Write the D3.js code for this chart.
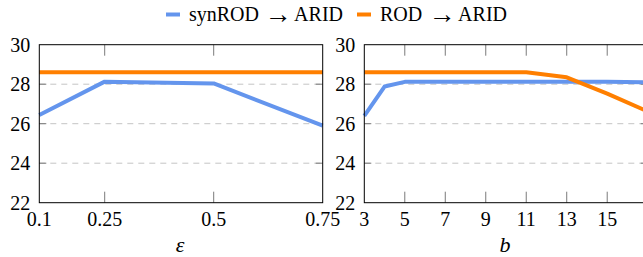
<!DOCTYPE html>
<html>
<head>
<meta charset="utf-8">
<script src="https://cdn.jsdelivr.net/npm/d3@7"></script>
</head>
<body style="margin:0;background:#fff">
<svg width="643" height="257"></svg>
<script>
var seriesNames = [["synROD", "ARID"], ["ROD", "ARID"]];
var colors = ["#6495ed", "#ff7f00"];

var epsX = [0.1, 0.25, 0.5, 0.75];
var epsSyn = [26.44, 28.13, 28.04, 25.9];
var epsRod = [28.6, 28.6, 28.6, 28.6];
var epsTicks = [0.1, 0.25, 0.5, 0.75];

var bX = [3, 4, 5, 7, 9, 11, 13, 15, 17];
var bSyn = [26.4, 27.88, 28.12, 28.12, 28.12, 28.12, 28.12, 28.12, 28.1];
var bRod = [28.6, 28.6, 28.6, 28.6, 28.6, 28.6, 28.35, 27.52, 26.62];
var bTicks = [3, 5, 7, 9, 11, 13, 15];

var yTicks = [22, 24, 26, 28, 30];
var gridTicks = [24, 26, 28];

var FONT = "Liberation Serif";

var svg = d3.select("svg");

var plotTop = 44.7, plotBottom = 202.7;

var y = d3.scaleLinear().domain([22, 30]).range([plotBottom, plotTop]);

function panel(x0, x1, domain, ticks, xs, syn, rod, title) {
	var x = d3.scaleLinear().domain(domain).range([x0, x1]);
	var g = svg.append("g");

	// dashed horizontal grid
	g.selectAll(".grid")
		.data(gridTicks)
		.enter().append("line")
		.attr("x1", x0).attr("x2", x1)
		.attr("y1", function(d) { return y(d); })
		.attr("y2", function(d) { return y(d); })
		.attr("stroke", "#c4c4c4")
		.attr("stroke-width", 1)
		.attr("stroke-dasharray", "6,5");

	// tick marks, both sides
	var inner = ticks.filter(function(d) { return d != domain[0] && d != domain[1]; });
	[[plotBottom, -11], [plotTop, 11]].forEach(function(p) {
		g.selectAll(null)
			.data(inner)
			.enter().append("line")
			.attr("x1", function(d) { return x(d); })
			.attr("x2", function(d) { return x(d); })
			.attr("y1", p[0]).attr("y2", p[0] + p[1])
			.attr("stroke", "#7a7a7a");
	});
	[[x0, 7], [x1, -7]].forEach(function(p) {
		g.selectAll(null)
			.data(gridTicks)
			.enter().append("line")
			.attr("x1", p[0]).attr("x2", p[0] + p[1])
			.attr("y1", function(d) { return y(d); })
			.attr("y2", function(d) { return y(d); })
			.attr("stroke", "#7a7a7a");
	});

	var line = d3.line()
		.x(function(d) { return x(d[0]); })
		.y(function(d) { return y(d[1]); });

	[syn, rod].forEach(function(s, i) {
		g.append("path")
			.datum(xs.map(function(v, j) { return [v, s[j]]; }))
			.attr("d", line)
			.attr("fill", "none")
			.attr("stroke", colors[i])
			.attr("stroke-width", 4)
			.attr("stroke-linejoin", "round");
	});

	// frame
	g.append("rect")
		.attr("x", x0).attr("y", plotTop)
		.attr("width", x1 - x0).attr("height", plotBottom - plotTop)
		.attr("fill", "none")
		.attr("stroke", "#000")
		.attr("stroke-width", 1);

	g.selectAll(".xl")
		.data(ticks)
		.enter().append("text")
		.attr("x", function(d) { return x(d); })
		.attr("y", plotBottom + 23.5)
		.attr("text-anchor", "middle")
		.attr("font-family", FONT)
		.attr("font-size", 20)
		.text(function(d) { return d; });

	g.selectAll(".yl")
		.data(yTicks)
		.enter().append("text")
		.attr("x", x0 - 9)
		.attr("y", function(d) { return y(d) + 7; })
		.attr("text-anchor", "end")
		.attr("font-family", FONT)
		.attr("font-size", 20)
		.text(function(d) { return d; });

	g.append("text")
		.attr("x", (x0 + x1) / 2 - 1)
		.attr("y", 252)
		.attr("text-anchor", "middle")
		.attr("font-family", FONT)
		.attr("font-size", 22)
		.attr("font-style", "italic")
		.text(title);
}

panel(39.3, 322.7, [0.1, 0.75], epsTicks, epsX, epsSyn, epsRod, "\u03b5");
panel(364.3, 647.7, [3, 17], bTicks, bX, bSyn, bRod, "b");

// legend: swatch, left word, arrow, right word
var leg = [
	{ sx: 166, a: 189, arrow: 278, b: 343 },
	{ sx: 357, a: 380, arrow: 442, b: 507 }
];
leg.forEach(function(l, i) {
	svg.append("line")
		.attr("x1", l.sx).attr("x2", l.sx + 14)
		.attr("y1", 14.5).attr("y2", 14.5)
		.attr("stroke", colors[i])
		.attr("stroke-width", 4);
	var t = svg.append("g")
		.attr("font-family", FONT)
		.attr("font-size", 20);
	t.append("text").attr("x", l.a).attr("y", 21).text(seriesNames[i][0]);
	t.append("text").attr("x", l.arrow).attr("y", 22.5)
		.attr("font-size", 27)
		.attr("text-anchor", "middle").text("\u2192");
	t.append("text").attr("x", l.b).attr("y", 21)
		.attr("text-anchor", "end").text(seriesNames[i][1]);
});
</script>
</body>
</html>
